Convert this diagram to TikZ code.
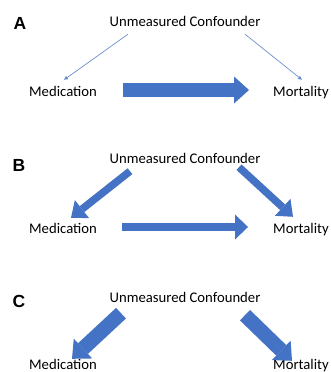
\documentclass[tikz,border=0pt]{standalone}
\usepackage{fontspec}
\setmainfont{Carlito}
\newfontfamily\lblfont{Liberation Sans}
\usetikzlibrary{arrows.meta,positioning}
\definecolor{officeblue}{HTML}{4472C4}
\begin{document}
\begin{tikzpicture}[x=1pt,y=-1pt,
    var/.style={inner sep=1pt,text height=11pt,text depth=3pt,
      font=\fontsize{14.7}{17}\selectfont},
    panel/.style={inner sep=0pt,font=\lblfont\bfseries\fontsize{17.5}{19}\selectfont},
    weak/.style={officeblue!80,line width=0.7pt,
      -{Triangle[width=4pt,length=4pt,line width=0pt]}},
    medium/.style={officeblue,line width=7.5pt,
      -{Triangle[width=23pt,length=14pt,line width=0pt]}},
    strong/.style={officeblue,line width=14.5pt,
      -{Triangle[width=27pt,length=15pt,line width=0pt]}}]
      \useasboundingbox (0,0) rectangle (331,372);
      % A
      \node [panel] (labA) at (20,23) {A};
      \node [var] (confA) at (185,23) {Unmeasured Confounder};
      \node [var] (medA) at (63,92) {Medication};
      \node [var] (morA) at (301,92) {Mortality};
      \draw[weak] ([shift={(-57,3)}]confA.south) to ([shift={(1,-4)}]medA.north);
      \draw[weak] ([shift={(60,3)}]confA.south) to ([shift={(1,-4)}]morA.north);
      \draw[strong] ([shift={(25,-2)}]medA.east) to ([shift={(-23,-2)}]morA.west);
      % B
      \node [panel] (labB) at (19,165) {B};
      \node [var] (confB) at (185,159) {Unmeasured Confounder};
      \node [var] (medB) at (63,229) {Medication};
      \node [var] (morB) at (301,229) {Mortality};
      \draw[medium] ([shift={(-55,4)}]confB.south) to ([shift={(8,-3)}]medB.north);
      \draw[medium] ([shift={(54,0)}]confB.south) to ([shift={(-8,-4)}]morB.north);
      \draw[medium,-{Triangle[width=25pt,length=13pt,line width=0pt]}]
      ([shift={(24,-2)}]medB.east) to ([shift={(-24,-2)}]morB.west);
      % C
      \node [panel] (labC) at (19,301) {C};
      \node [var] (confC) at (185,298) {Unmeasured Confounder};
      \node [var] (medC) at (63,365) {Medication};
      \node [var] (morC) at (301,365) {Mortality};
      \draw[strong] ([shift={(-64,7)}]confC.south) to ([shift={(9,2)}]medC.north);
      \draw[strong] ([shift={(60,9)}]confC.south) to ([shift={(-9,4)}]morC.north);
\end{tikzpicture}
\end{document}
